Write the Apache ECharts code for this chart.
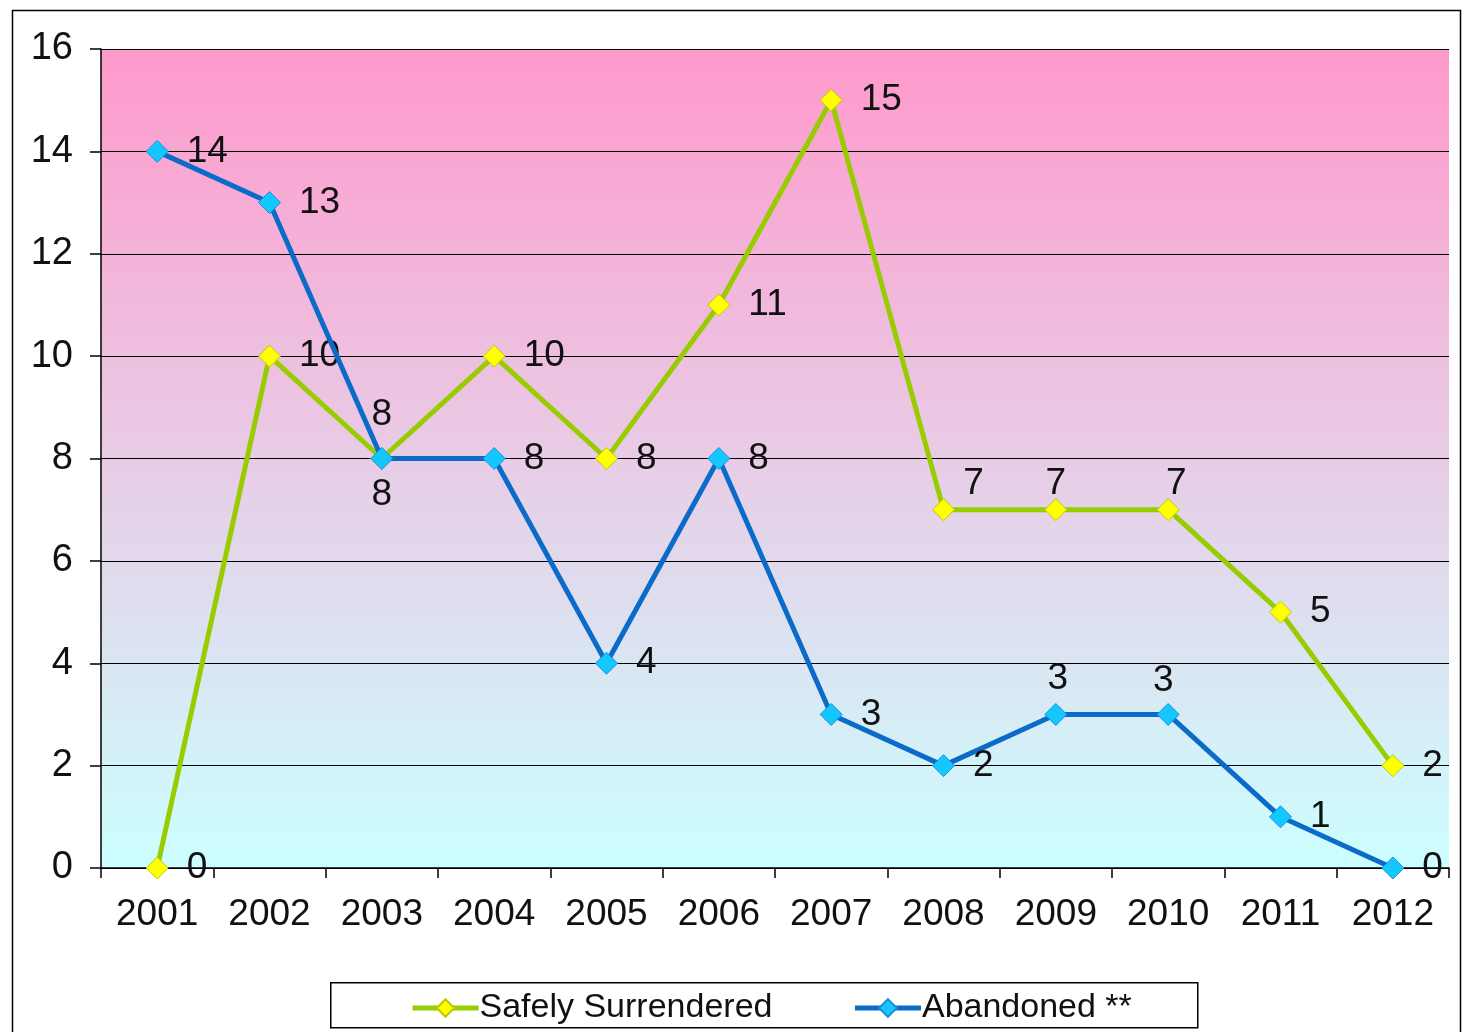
<!DOCTYPE html>
<html>
<head>
<meta charset="utf-8">
<script src="https://cdn.jsdelivr.net/npm/echarts@6/dist/echarts.min.js"></script>
<style>
html,body{margin:0;padding:0;background:#fff;}
#chart{width:1465px;height:1032px;}
</style>
</head>
<body>
<div id="chart"></div>
<script>
const years = ['2001','2002','2003','2004','2005','2006','2007','2008','2009','2010','2011','2012'];
const safelySurrendered = [0,10,8,10,8,11,15,7,7,7,5,2];
const abandoned = [14,13,8,8,4,8,3,2,3,3,1,0];
const yTicks = {min:0, max:16, interval:2};

const FONT = 'Liberation Sans, Arial, sans-serif';
const labelBase = {show:true, fontSize:37, fontFamily:FONT, color:'#111'};

// label placement per point (style only)
const ssLabelPos = ['right','right','top','right','right','right','right','tr1','top7','tr2','right','right'];
const abLabelPos = ['right','right','bottom','right','right','right','right','right','top3','tl','right','right'];

function labelFor(p){
  if (p === 'right') return {position:'right', distance:18};
  if (p === 'top') return {position:'top', distance:14};
  if (p === 'bottom') return {position:'bottom', distance:6};
  if (p === 'tr1') return {position:'top', distance:14, offset:[30,18]};
  if (p === 'top7') return {position:'top', distance:14, offset:[0,18]};
  if (p === 'tr2') return {position:'top', distance:14, offset:[8,18]};
  if (p === 'top3') return {position:'top', distance:14, offset:[2,8]};
  if (p === 'tl') return {position:'top', distance:14, offset:[-5,10]};
  return {position:'right'};
}
function build(vals, pos){
  return vals.map((v,i)=>({value:v, label:labelFor(pos[i])}));
}

const chart = echarts.init(document.getElementById('chart'), null, {renderer:'canvas'});
chart.setOption({
  animation:false,
  backgroundColor:'#ffffff',
  textStyle:{fontFamily:FONT},
  graphic:[
    {type:'rect', left:10, top:8, shape:{width:1448, height:1030}, style:{fill:'none', stroke:'#000', lineWidth:1.5}, z:-10},
    {type:'rect', left:330, top:982, shape:{width:867, height:45}, style:{fill:'#fff', stroke:'#000', lineWidth:1.5}, z:-5}
  ],
  grid:{left:101, right:16, top:49, bottom:164, show:true, borderWidth:0,
    backgroundColor:new echarts.graphic.LinearGradient(0,0,0,1,[
      {offset:0, color:'#FF99CC'},
      {offset:0.5, color:'#E8CCE6'},
      {offset:1, color:'#CCFFFF'}
    ])},
  legend:{
    left:405, top:986, itemWidth:66, itemHeight:22, itemGap:80,
    lineStyle:{width:5},
    textStyle:{fontSize:34, fontFamily:FONT, color:'#111', padding:[0,0,0,-4]},
    data:['Safely Surrendered','Abandoned **']
  },
  xAxis:{
    type:'category', data:years, boundaryGap:true,
    axisLine:{lineStyle:{color:'#000', width:1.5}},
    axisTick:{show:true, length:10, lineStyle:{color:'#000', width:1.5}},
    axisLabel:{fontSize:37, fontFamily:FONT, color:'#111', margin:28},
    splitLine:{show:false}
  },
  yAxis:{
    type:'value', min:yTicks.min, max:yTicks.max, interval:yTicks.interval,
    axisLine:{show:true, lineStyle:{color:'#000', width:1.5}},
    axisTick:{show:true, length:11, lineStyle:{color:'#000', width:1.5}},
    axisLabel:{fontSize:38, fontFamily:FONT, color:'#111', margin:28},
    splitLine:{show:true, lineStyle:{color:'#000', width:1}}
  },
  series:[
    {
      name:'Safely Surrendered', type:'line',
      data:build(safelySurrendered, ssLabelPos),
      symbol:'diamond', symbolSize:22,
      lineStyle:{color:'#99CC00', width:5},
      itemStyle:{color:'#FFFF00', borderColor:'#B8CC00', borderWidth:1},
      label:labelBase, z:3
    },
    {
      name:'Abandoned **', type:'line',
      data:build(abandoned, abLabelPos),
      symbol:'diamond', symbolSize:22,
      lineStyle:{color:'#0A6BC8', width:5},
      itemStyle:{color:'#14C8FF', borderColor:'#1A8FE0', borderWidth:1},
      label:labelBase, z:4
    }
  ]
});
</script>
</body>
</html>
